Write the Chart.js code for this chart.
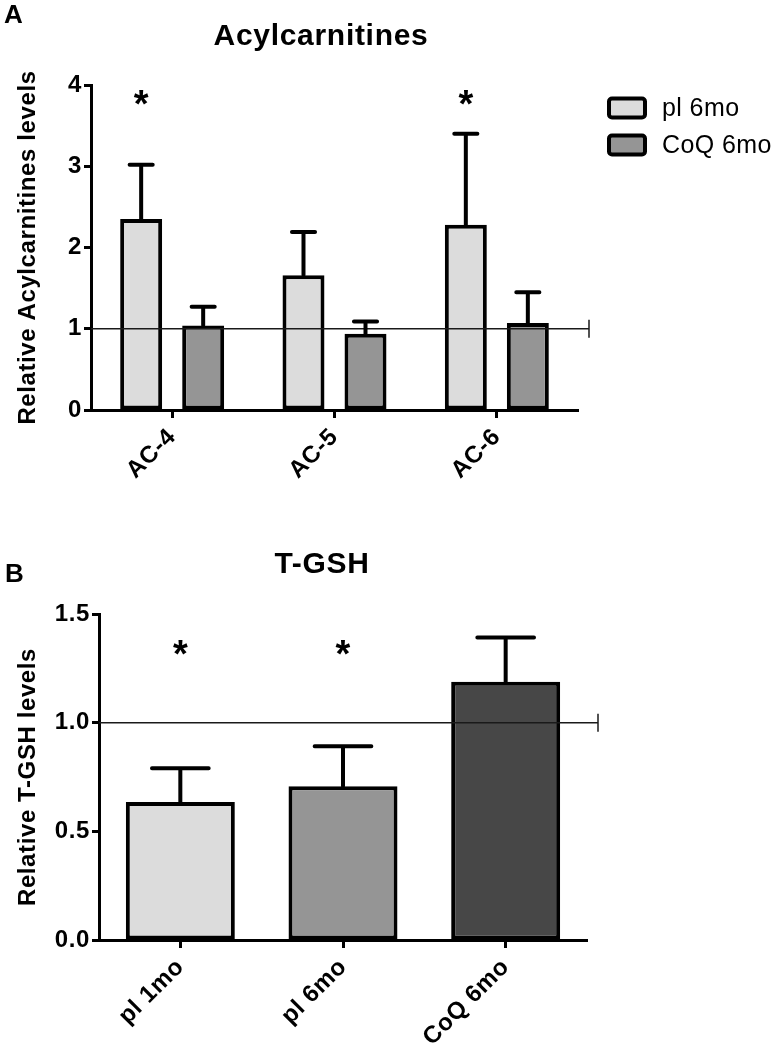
<!DOCTYPE html>
<html>
<head>
<meta charset="utf-8">
<script src="https://cdn.jsdelivr.net/npm/chart.js@4.4.1/dist/chart.umd.min.js"></script>
<style>
    body { margin: 0; background: #fff; width: 777px; height: 1050px; overflow: hidden; position: relative; }
    canvas { position: absolute; left: 0; }
    #chartA { top: 0; }
    #chartB { top: 525px; }
</style>
</head>
<body>
<canvas id="chartA" width="777" height="525"></canvas>
<canvas id="chartB" width="777" height="525"></canvas>
<script>
// Panel A - Acylcarnitines
const acCategories = ['AC-4', 'AC-5', 'AC-6'];
const acSeries = ['pl 6mo', 'CoQ 6mo'];
const plValues = [2.35, 1.66, 2.28];
const plErrors = [0.67, 0.53, 1.12];
const coqValues = [1.04, 0.94, 1.07];
const coqErrors = [0.23, 0.15, 0.38];
const acStars = [true, false, true];      // on the pl 6mo bars
const acTicks = [0, 1, 2, 3, 4];
const acTickLabels = ['0', '1', '2', '3', '4'];

// Panel B - T-GSH
const gshCategories = ['pl 1mo', 'pl 6mo', 'CoQ 6mo'];
const gshValues = [0.635, 0.708, 1.188];
const gshErrors = [0.155, 0.184, 0.204];
const gshStars = [true, true, false];
const gshTicks = [0, 0.5, 1.0, 1.5];
const gshTickLabels = ['0.0', '0.5', '1.0', '1.5'];

const FONT = "'Liberation Sans', Arial, Helvetica, sans-serif";
Chart.defaults.font.family = FONT;
Chart.defaults.color = '#000';

// draws the reference line, error bars, stars, titles and legend
const panelDecor = {
    id: 'panelDecor',
    beforeDraw(chart) {
        chart.ctx.letterSpacing = '0.6px';
    },
    afterDatasetsDraw(chart, args, opts) {
        const { ctx, chartArea } = chart;
        const y = chart.scales.y;
        ctx.save();

        // line at 1.0
        const yRef = y.getPixelForValue(opts.refValue);
        const xEnd = chartArea.right + opts.refOverhang;
        ctx.strokeStyle = '#1a1a1a';
        ctx.lineWidth = 1.5;
        ctx.beginPath();
        ctx.moveTo(chartArea.left, yRef);
        ctx.lineTo(xEnd, yRef);
        ctx.moveTo(xEnd, yRef - 9);
        ctx.lineTo(xEnd, yRef + 9);
        ctx.stroke();

        // error bars, upper half only
        ctx.strokeStyle = '#000';
        ctx.lineWidth = 4;
        ctx.lineCap = 'round';
        chart.data.datasets.forEach((ds, i) => {
            chart.getDatasetMeta(i).data.forEach((bar, j) => {
                const yTop = y.getPixelForValue(ds.data[j] + ds.errors[j]);
                const half = bar.width * opts.capRatio / 2;
                ctx.beginPath();
                ctx.moveTo(bar.x, bar.y);
                ctx.lineTo(bar.x, yTop);
                ctx.moveTo(bar.x - half, yTop);
                ctx.lineTo(bar.x + half, yTop);
                ctx.stroke();
            });
        });

        // significance stars
        ctx.letterSpacing = '0px';
        ctx.fillStyle = '#000';
        ctx.font = 'bold 38px ' + FONT;
        ctx.textAlign = 'center';
        ctx.textBaseline = 'alphabetic';
        const bars = chart.getDatasetMeta(opts.starDataset).data;
        const yStar = y.getPixelForValue(opts.starLevel);
        opts.stars.forEach((on, j) => {
            if (on) ctx.fillText('*', bars[j].x, yStar + 38 * 0.56);
        });
        ctx.restore();
    },
    afterDraw(chart, args, opts) {
        const ctx = chart.ctx;
        ctx.save();
        ctx.letterSpacing = '0.7px';
        ctx.fillStyle = '#000';
        ctx.textBaseline = 'middle';

        ctx.font = 'bold 30px ' + FONT;
        ctx.textAlign = 'center';
        ctx.fillText(opts.title, opts.titleX, opts.titleY);

        ctx.font = 'bold 26px ' + FONT;
        ctx.textAlign = 'left';
        ctx.fillText(opts.letter, opts.letterX, opts.letterY);

        if (opts.legend) {
            ctx.font = '25px ' + FONT;
            ctx.letterSpacing = '0.4px';
            chart.data.datasets.forEach((ds, i) => {
                const cy = opts.legendY + i * opts.legendGap;
                ctx.beginPath();
                ctx.roundRect(opts.legendX, cy - 9.5, 36, 19, 3);
                ctx.fillStyle = ds.backgroundColor;
                ctx.fill();
                ctx.lineWidth = 4;
                ctx.strokeStyle = '#000';
                ctx.stroke();
                ctx.fillStyle = '#000';
                ctx.fillText(ds.label, opts.legendX + 53, cy + 1);
            });
        }
        ctx.restore();
    }
};

function axes(ticks, tickLabels, yWidth, xHeight, yTitle) {
    return {
        x: {
            offset: true,
            border: { display: true, color: '#000', width: 3 },
            grid: { display: true, offset: false, drawOnChartArea: false, tickLength: 8, tickWidth: 3, tickColor: '#000' },
            ticks: { minRotation: 45, maxRotation: 45, padding: 5, font: { size: 24, weight: 'bold' } },
            afterFit: s => { s.height = xHeight; }
        },
        y: {
            min: ticks[0],
            max: ticks[ticks.length - 1],
            border: { display: true, color: '#000', width: 3 },
            grid: { display: true, drawOnChartArea: false, tickLength: 7, tickWidth: 3, tickColor: '#000' },
            afterBuildTicks: s => { s.ticks = ticks.map(v => ({ value: v })); },
            ticks: {
                padding: 2,
                font: { size: 24, weight: 'bold' },
                callback: v => tickLabels[ticks.indexOf(v)]
            },
            title: { display: true, text: yTitle, font: { size: 24, weight: 'bold' }, padding: { top: 14, bottom: 0 } },
            afterFit: s => { s.width = yWidth; }
        }
    };
}

new Chart(document.getElementById('chartA'), {
    type: 'bar',
    data: {
        labels: acCategories,
        datasets: [{
            label: acSeries[0],
            data: plValues,
            errors: plErrors,
            backgroundColor: '#dcdcdc'
        }, {
            label: acSeries[1],
            data: coqValues,
            errors: coqErrors,
            backgroundColor: '#959595'
        }].map(d => Object.assign(d, {
            borderColor: '#000', borderWidth: 4, borderSkipped: false,
            categoryPercentage: 0.764, barPercentage: 0.677
        }))
    },
    options: {
        responsive: false,
        animation: false,
        layout: { padding: { top: 85, right: 199, bottom: 0, left: 0 } },
        scales: axes(acTicks, acTickLabels, 91, 115, 'Relative Acylcarnitines levels'),
        plugins: {
            legend: { display: false },
            tooltip: { enabled: false },
            panelDecor: {
                refValue: 1, refOverhang: 11, capRatio: 0.55,
                stars: acStars, starDataset: 0, starLevel: 3.87,
                title: 'Acylcarnitines', titleX: 321, titleY: 37,
                letter: 'A', letterX: 4, letterY: 16,
                legend: true, legendX: 609, legendY: 108, legendGap: 37
            }
        }
    },
    plugins: [panelDecor]
});

new Chart(document.getElementById('chartB'), {
    type: 'bar',
    data: {
        labels: gshCategories,
        datasets: [{
            label: 'T-GSH',
            data: gshValues,
            errors: gshErrors,
            backgroundColor: ['#dcdcdc', '#959595', '#474747'],
            borderColor: '#000',
            borderWidth: 4,
            borderSkipped: false,
            categoryPercentage: 1,
            barPercentage: 0.67
        }]
    },
    options: {
        responsive: false,
        animation: false,
        layout: { padding: { top: 89, right: 190, bottom: 0, left: 0 } },
        scales: axes(gshTicks, gshTickLabels, 99, 110, 'Relative T-GSH levels'),
        plugins: {
            legend: { display: false },
            tooltip: { enabled: false },
            panelDecor: {
                refValue: 1, refOverhang: 11, capRatio: 0.52,
                stars: gshStars, starDataset: 0, starLevel: 1.353,
                title: 'T-GSH', titleX: 322, titleY: 40,
                letter: 'B', letterX: 5, letterY: 50,
                legend: false
            }
        }
    },
    plugins: [panelDecor]
});
</script>
</body>
</html>
